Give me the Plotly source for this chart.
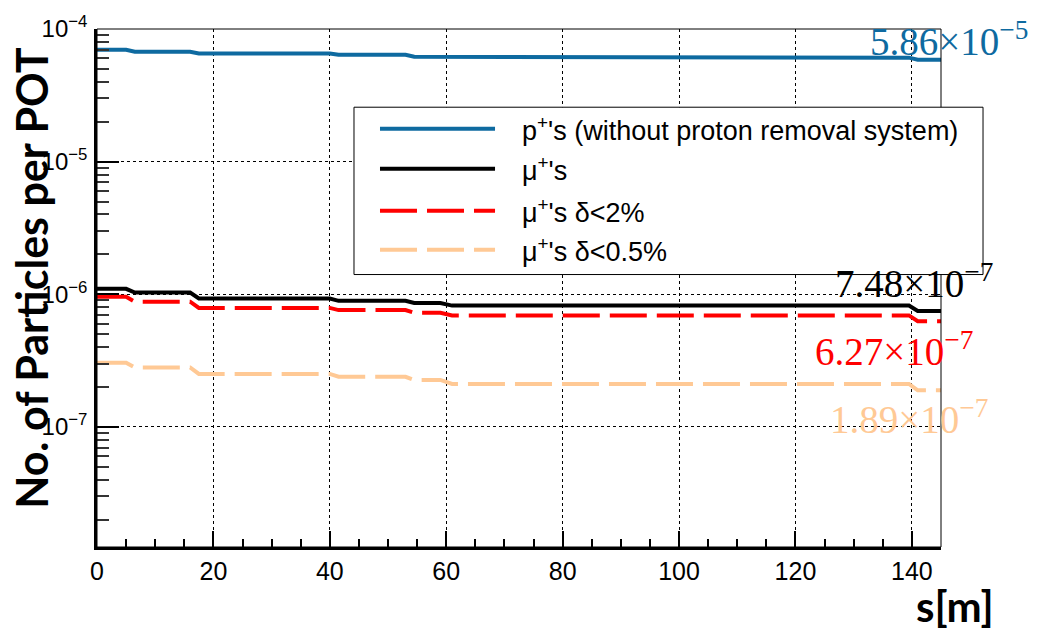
import plotly.graph_objects as go

# Positions along beam line s [m] (steps with short transitions)
s = [0, 5, 6.5, 16, 17.5, 40, 41.5, 53, 54.5, 59, 61, 139.5, 141, 145]

protons = [6.97e-5, 6.97e-5, 6.73e-5, 6.73e-5, 6.54e-5, 6.54e-5, 6.40e-5, 6.40e-5,
           6.18e-5, 6.18e-5, 6.08e-5, 6.08e-5, 5.86e-5, 5.86e-5]
muons = [1.10e-6, 1.10e-6, 1.03e-6, 1.03e-6, 9.3e-7, 9.3e-7, 8.93e-7, 8.93e-7,
         8.59e-7, 8.59e-7, 8.22e-7, 8.22e-7, 7.48e-7, 7.48e-7]
muons_d2 = [9.57e-7, 9.57e-7, 8.79e-7, 8.79e-7, 7.9e-7, 7.9e-7, 7.6e-7, 7.6e-7,
            7.26e-7, 7.26e-7, 6.93e-7, 6.93e-7, 6.27e-7, 6.27e-7]
muons_d05 = [3.05e-7, 3.05e-7, 2.81e-7, 2.81e-7, 2.51e-7, 2.51e-7, 2.39e-7, 2.39e-7,
             2.26e-7, 2.26e-7, 2.11e-7, 2.11e-7, 1.89e-7, 1.89e-7]

series_names = ["p<sup>+</sup>'s (without proton removal system)",
                "μ<sup>+</sup>'s",
                "μ<sup>+</sup>'s δ&lt;2%",
                "μ<sup>+</sup>'s δ&lt;0.5%"]
end_labels = ["5.86×10<sup>−5</sup>", "7.48×10<sup>−7</sup>",
              "6.27×10<sup>−7</sup>", "1.89×10<sup>−7</sup>"]

x_tickvals = [0, 20, 40, 60, 80, 100, 120, 140]
y_tickvals = [1e-7, 1e-6, 1e-5, 1e-4]
y_ticktext = ["10<sup>−7</sup>", "10<sup>−6</sup>", "10<sup>−5</sup>", "10<sup>−4</sup>"]
y_minor = [m * 10.0 ** e for e in range(-8, -4) for m in range(2, 10)]

BLUE = "#0e6aa0"
BLACK = "#000000"
RED = "#ff0000"
ORANGE = "#ffc995"
DASH = "37px,10px"

colors = [BLUE, BLACK, RED, ORANGE]
dashes = ["solid", "solid", DASH, DASH]
data = [protons, muons, muons_d2, muons_d05]

fig = go.Figure()
for name, ys, c, d in zip(series_names, data, colors, dashes):
    fig.add_trace(go.Scatter(x=s, y=ys, mode="lines", name=name,
                             line=dict(color=c, width=4, dash=d),
                             showlegend=False))

sans = "Liberation Sans, Arial, sans-serif"

fig.update_layout(
    width=1042, height=633,
    margin=dict(l=97, r=101, t=17, b=86),
    paper_bgcolor="white", plot_bgcolor="white",
    xaxis=dict(range=[0, 145], showline=True, linecolor="black", linewidth=2.5,
               ticks="inside", ticklen=16, tickwidth=1.5, tickcolor="black",
               tickvals=x_tickvals,
               showgrid=True, gridcolor="black", griddash="dot", gridwidth=1,
               minor=dict(tickvals=[v for v in range(5, 145, 5) if v % 20 != 0],
                          ticks="inside", ticklen=8, tickwidth=1.5, tickcolor="black",
                          showgrid=False),
               tickfont=dict(family=sans, size=25, color="black"),
               zeroline=False, mirror=False),
    yaxis=dict(type="log", range=[-7.905, -4], showline=True, linecolor="black",
               linewidth=2.5, ticks="inside", ticklen=22, tickwidth=1.5,
               tickcolor="black", tickvals=y_tickvals, ticktext=y_ticktext,
               showgrid=True, gridcolor="black", griddash="dot", gridwidth=1,
               minor=dict(tickvals=y_minor, ticks="inside", ticklen=12,
                          tickwidth=1.5, tickcolor="#333333", showgrid=False),
               tickfont=dict(family=sans, size=24, color="black"),
               zeroline=False, mirror=False, ticklabelstandoff=2),
)

# thin frame on top/right
fig.add_shape(type="rect", xref="paper", yref="paper", x0=0, x1=1, y0=0, y1=1,
              line=dict(color="black", width=1), layer="above")

# axis titles
title_font = "Lato, 'Open Sans', sans-serif"
fig.add_annotation(text="<b>No. of Particles per POT</b>", xref="paper", yref="paper",
                   x=-0.078, y=0.52, xanchor="center", yanchor="middle", textangle=-90,
                   showarrow=False, font=dict(family=title_font, size=43, color="black"))
fig.add_annotation(text="<b>s[m]</b>", xref="paper", yref="paper",
                   x=1.016, y=-0.113, xanchor="center", yanchor="middle",
                   showarrow=False, font=dict(family=title_font, size=42, color="black"))

# legend (custom box so the line samples match the reference length)
lx0, lx1, ly0, ly1 = 0.3045, 1.0498, 0.526, 0.849
fig.add_shape(type="rect", xref="paper", yref="paper", x0=lx0, x1=lx1, y0=ly0, y1=ly1,
              line=dict(color="black", width=1), fillcolor="white", layer="above")
rows = [0.8075, 0.730, 0.649, 0.574]
for name, c, d, ry in zip(series_names, colors, dashes, rows):
    fig.add_shape(type="line", xref="paper", yref="paper", x0=0.3353, x1=0.4716,
                  y0=ry, y1=ry, line=dict(color=c, width=4, dash=d), layer="above")
    fig.add_annotation(text=name, xref="paper", yref="paper", x=0.501, y=ry,
                       xanchor="left", yanchor="middle", showarrow=False,
                       font=dict(family=sans, size=27, color="black"))

# end-value labels
lab_pos = [(1.1055, 0.981), (1.064, 0.513), (1.040, 0.383), (1.058, 0.251)]
for txt, c, (px, py) in zip(end_labels, colors, lab_pos):
    fig.add_annotation(text=txt, xref="paper", yref="paper", x=px, y=py,
                       xanchor="right", yanchor="middle", showarrow=False,
                       font=dict(family="Liberation Serif, 'DejaVu Serif', serif",
                                 size=39, color=c))

fig.write_html("out.html")
